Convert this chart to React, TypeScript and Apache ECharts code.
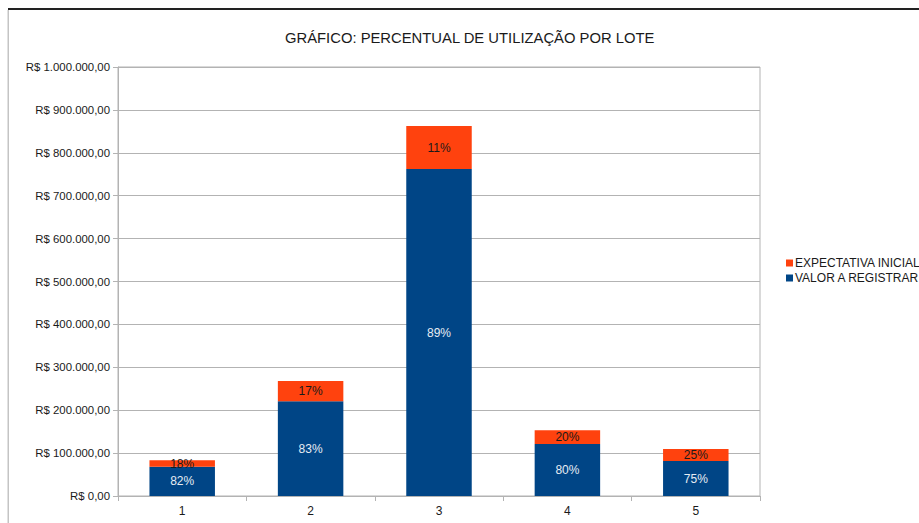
import React, { useEffect, useRef } from "react";
import * as echarts from "echarts";

const categories = ["1", "2", "3", "4", "5"];
const valorRegistrar = [68000, 221000, 762000, 121000, 81500];
const expectativaExtra = [15500, 47000, 100500, 32500, 28000];
const pctRegistrar = ["82%", "83%", "89%", "80%", "75%"];
const pctExpectativa = ["18%", "17%", "11%", "20%", "25%"];
const titleText = "GRÁFICO: PERCENTUAL DE UTILIZAÇÃO POR LOTE";

function fmtBRL(v: number): string {
  const s = Math.round(v).toString();
  const withDots = s.replace(/\B(?=(\d{3})+(?!\d))/g, ".");
  return "R$ " + withDots + ",00";
}

export default function App() {
  const ref = useRef<HTMLDivElement>(null);
  useEffect(() => {
    document.body.style.margin = "0";
    if (!ref.current) return;
    const chart = echarts.init(ref.current, null, { renderer: "svg" });
    const font = "'Liberation Sans', Arial, sans-serif";
    chart.setOption({
      animation: false,
      textStyle: { fontFamily: font },
      title: {
        text: titleText,
        left: 280,
        top: 25,
        textStyle: { fontFamily: font, fontSize: 14.8, fontWeight: "normal", color: "#1a1a1a" },
      },
      legend: {
        orient: "vertical",
        left: 781,
        top: 252,
        itemWidth: 7,
        itemHeight: 7,
        itemGap: 3,
        icon: "rect",
        data: ["EXPECTATIVA INICIAL", "VALOR A REGISTRAR"],
        textStyle: { fontFamily: font, fontSize: 12, color: "#1a1a1a", padding: [0, 0, 0, -3] },
      },
      grid: {
        left: 118,
        right: 159,
        top: 67,
        bottom: 27,
        show: true,
        borderColor: "#b3b3b3",
        borderWidth: 1,
      },
      xAxis: {
        type: "category",
        data: categories,
        axisLine: { lineStyle: { color: "#b3b3b3" } },
        axisTick: { show: true, length: 5, lineStyle: { color: "#b3b3b3" } },
        axisLabel: { fontFamily: font, fontSize: 12, color: "#1a1a1a", margin: 9 },
      },
      yAxis: {
        type: "value",
        min: 0,
        max: 1000000,
        interval: 100000,
        axisLine: { show: true, lineStyle: { color: "#b3b3b3" } },
        axisTick: { show: true, length: 5, lineStyle: { color: "#b3b3b3" } },
        splitLine: { lineStyle: { color: "#b3b3b3" } },
        axisLabel: { fontFamily: font, fontSize: 11.4, color: "#1a1a1a", margin: 8, formatter: fmtBRL },
      },
      series: [
        {
          name: "VALOR A REGISTRAR",
          type: "bar",
          stack: "t",
          data: valorRegistrar,
          barCategoryGap: "49%",
          itemStyle: { color: "#004586" },
          label: {
            show: true,
            position: "inside",
            fontFamily: font,
            fontSize: 12,
            color: "#e6ecf3",
            formatter: (p: any) => pctRegistrar[p.dataIndex],
          },
        },
        {
          name: "EXPECTATIVA INICIAL",
          type: "bar",
          stack: "t",
          data: expectativaExtra,
          itemStyle: { color: "#ff420e" },
          label: {
            show: true,
            position: "inside",
            fontFamily: font,
            fontSize: 12,
            color: "#1a1a1a",
            formatter: (p: any) => pctExpectativa[p.dataIndex],
          },
        },
      ],
      graphic: [
        { type: "rect", shape: { x: 8, y: 8, width: 911, height: 2 }, style: { fill: "#222222" }, silent: true },
        { type: "rect", shape: { x: 7.5, y: 10, width: 1.5, height: 513 }, style: { fill: "#c4c4c4" }, silent: true },
      ],
    });
    return () => chart.dispose();
  }, []);
  return <div ref={ref} style={{ position: "absolute", left: 0, top: 0, width: 919, height: 523 }} />;
}
